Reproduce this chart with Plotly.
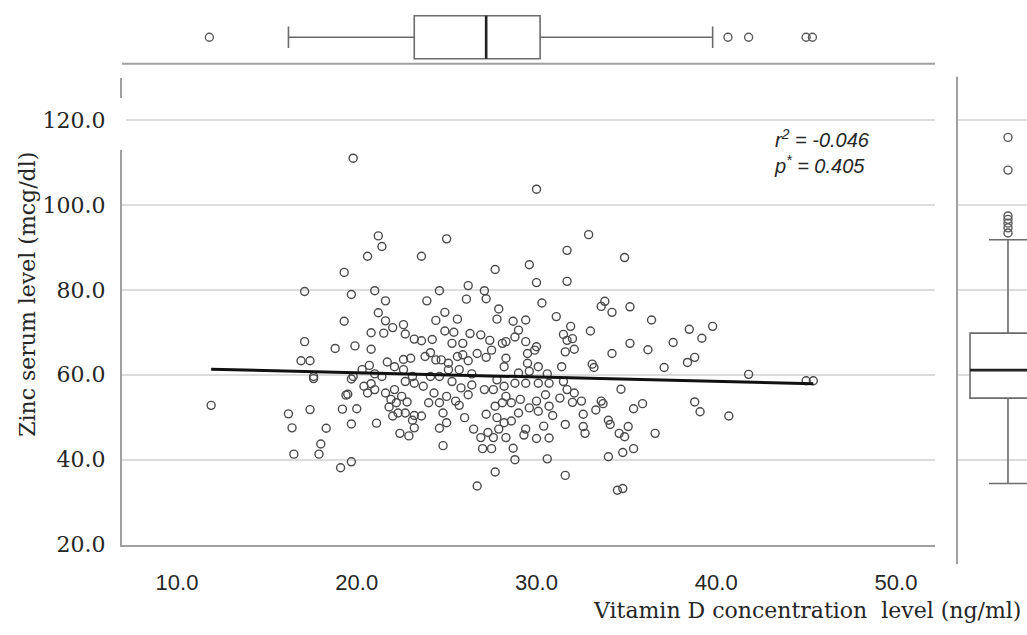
import plotly.graph_objects as go

W, H = 1027, 635

# ---------------- data ----------------
vitd = [19.8, 21.2, 21.4, 20.6, 23.6, 25.0, 19.3, 27.7, 17.1, 19.7, 21.0, 21.6, 24.6, 23.9, 26.2, 26.1, 27.1, 27.2,
        27.9, 27.8, 19.3, 21.2, 21.6, 22.0, 22.6, 22.7, 21.5, 20.8, 24.4, 24.9, 25.6, 24.9, 25.4, 26.3, 26.9,
        27.4, 28.1, 28.3, 17.1, 18.8, 19.9, 20.8, 23.2, 23.6, 24.2, 25.3, 25.9, 16.9, 17.4, 17.6, 17.6, 11.9, 16.2,
        16.4, 17.4, 16.5, 17.9, 18.0, 18.3, 19.1, 19.7, 19.2, 20.0, 19.7, 19.4, 19.5, 19.7, 19.8, 21.1, 20.3, 20.7,
        21.0, 20.4, 20.6, 20.8, 21.0, 21.7, 22.1, 22.6, 23.0, 22.6, 21.6, 21.9, 21.8, 22.2, 22.5, 22.8, 22.0, 22.3,
        22.7, 23.1, 23.2, 23.6, 22.4, 22.9, 23.2, 22.7, 23.2, 23.7, 23.8, 24.1, 24.4, 24.7, 25.1, 25.6, 25.9, 26.2,
        26.7, 27.2, 27.5, 28.2, 28.3, 25.1, 25.7, 26.4, 24.1, 24.6, 25.3, 24.3, 24.0, 24.6, 25.0, 25.5, 25.7, 24.8,
        25.0, 24.6, 26.0, 24.8, 25.8, 26.2, 26.4, 26.7, 26.5, 26.9, 27.0, 27.5, 27.2, 27.1, 27.6, 27.8, 27.3, 27.6,
        27.9, 27.7, 28.2, 28.3, 27.7, 28.1, 28.3, 28.2, 27.8, 23.1, 22.1, 21.4,
        30.0, 32.9, 31.7, 34.9, 29.6, 30.0, 31.7, 30.3, 33.8, 33.6, 34.2, 35.2, 31.1, 29.4, 28.7, 36.4, 38.5, 39.8,
        39.2, 37.6, 36.2, 35.2, 34.2, 33.0, 31.9, 31.5, 32.0, 31.7, 32.1, 31.6, 38.8, 38.4, 37.1, 33.1, 33.2, 31.4,
        41.8, 45.0, 45.4, 34.7, 29.0, 28.8, 29.4, 30.0, 29.5, 29.9, 29.5, 30.1, 29.0, 29.6, 30.6, 30.7, 30.1, 29.4,
        28.8, 31.5, 31.7, 32.1, 31.3, 32.0, 32.5, 30.5, 30.0, 29.1, 28.6, 29.6, 30.1, 30.7, 30.9, 29.0, 28.6, 30.4,
        29.4, 29.3, 30.0, 30.7, 28.7, 28.8, 30.6, 31.6, 31.6, 32.6, 33.3, 33.6, 33.7, 32.6, 32.7, 34.0, 34.1, 34.6,
        34.9, 35.1, 35.4, 35.9, 34.0, 34.8, 35.4, 36.6, 34.5, 34.8, 38.8, 39.1, 40.7]
zinc = [111.0, 92.7, 90.2, 87.9, 87.9, 92.0, 84.1, 84.8, 79.6, 78.9, 79.8, 77.4, 79.8, 77.4, 81.0, 77.8, 79.8, 77.9,
        75.5, 73.1, 72.6, 74.6, 72.7, 71.1, 71.8, 69.6, 69.8, 69.9, 72.8, 74.7, 73.1, 70.3, 70.0, 69.7, 69.4,
        68.1, 67.4, 67.8, 67.8, 66.2, 66.8, 66.0, 68.4, 68.0, 68.3, 67.4, 67.4, 63.3, 63.3, 59.6, 59.1, 52.8, 50.8,
        47.5, 51.8, 41.3, 41.3, 43.7, 47.4, 38.1, 39.5, 51.9, 52.0, 48.4, 55.2, 55.4, 59.0, 59.6, 48.6, 61.2, 62.2,
        60.2, 57.3, 55.7, 57.9, 56.5, 63.0, 61.9, 63.6, 63.9, 61.2, 55.7, 54.2, 52.4, 53.4, 54.9, 53.6, 50.3, 51.0,
        51.0, 49.3, 50.4, 50.3, 46.2, 45.6, 47.5, 58.4, 58.0, 57.3, 64.3, 65.2, 63.5, 63.5, 62.7, 64.3, 64.7, 63.3,
        65.0, 64.1, 65.8, 61.9, 63.9, 61.2, 61.2, 60.2, 59.6, 59.6, 58.4, 55.7, 53.4, 53.4, 54.9, 53.8, 52.8, 51.0,
        48.7, 47.4, 49.9, 43.3, 56.9, 55.3, 57.6, 33.8, 47.2, 45.2, 42.6, 42.6, 50.7, 56.5, 56.5, 58.8, 46.4, 45.2,
        47.2, 37.1, 48.7, 45.2, 52.6, 53.4, 54.9, 57.3, 49.9, 59.6, 56.5, 59.6,
        103.7, 93.0, 89.3, 87.6, 85.9, 81.7, 82.0, 76.9, 77.3, 76.1, 74.7, 76.0, 73.7, 72.9, 72.6, 72.9, 70.7, 71.4,
        68.6, 67.6, 65.9, 67.4, 65.0, 70.3, 71.4, 69.5, 68.5, 68.1, 66.0, 65.4, 64.1, 62.9, 61.7, 62.5, 61.7, 61.9,
        60.1, 58.6, 58.6, 56.6, 70.5, 68.9, 67.8, 66.6, 65.0, 65.8, 62.7, 61.9, 60.4, 60.8, 60.2, 58.0, 58.0, 58.0,
        58.0, 58.4, 56.5, 55.7, 54.5, 53.5, 53.8, 55.3, 53.8, 54.2, 53.4, 52.2, 51.4, 52.6, 50.4, 51.0, 49.1, 47.9,
        47.2, 45.8, 45.0, 45.1, 42.7, 40.0, 40.2, 36.3, 48.3, 50.7, 51.7, 53.8, 53.2, 47.8, 46.2, 49.3, 48.3, 46.2,
        45.4, 47.8, 52.0, 53.2, 40.7, 41.7, 42.6, 46.2, 32.8, 33.2, 53.6, 51.3, 50.3]

fit_x = [11.9, 45.4]
fit_y = [61.3, 57.9]

# marginal box plot of vitamin D (top)
vitd_box = dict(lowerfence=16.2, q1=23.2, median=27.2, q3=30.2, upperfence=39.8)
vitd_outliers = [11.8, 40.65, 41.8, 45.0, 45.35]
# marginal box plot of zinc (right)
zinc_box = dict(lowerfence=34.4, q1=54.5, median=61.1, q3=69.8, upperfence=91.8)
zinc_outliers = [115.9, 108.2, 97.4, 96.6, 95.7, 94.6, 93.4]

x_ticks = [10, 20, 30, 40, 50]
x_ticktext = ["10.0", "20.0", "30.0", "40.0", "50.0"]
y_ticks = [20, 40, 60, 80, 100, 120]
y_ticktext = ["20.0", "40.0", "60.0", "80.0", "100.0", "120.0"]

stat_text = "<i>r<sup>2</sup> = -0.046</i><br><i>p<sup>*</sup> = 0.405</i>"
x_title = "Vitamin D concentration\u00a0 level (ng/ml)"
y_title = "Zinc serum level (mcg/dl)"


# ---------------- helpers: pixel -> paper ----------------
def px(x):
    return x / W


def py(y):
    return (H - y) / H


GRID = "#dcdcdc"
AXIS = "#a0a0a0"
BOXLINE = "#6b6b6b"
TEXT = "#262626"

fig = go.Figure()

# scatter points
fig.add_trace(go.Scatter(
    x=vitd, y=zinc, mode="markers", xaxis="x", yaxis="y",
    marker=dict(symbol="circle-open", size=8, color="#4a4a4a", line=dict(width=1.4, color="#4a4a4a")),
    showlegend=False, hoverinfo="x+y"))

# regression line
fig.add_trace(go.Scatter(
    x=fit_x, y=fit_y, mode="lines", xaxis="x", yaxis="y",
    line=dict(color="#111111", width=3), showlegend=False, hoverinfo="skip"))

# top box plot
TOP_W = 1.57
fig.add_trace(go.Box(
    y=[0], orientation="h", xaxis="x", yaxis="y2",
    q1=[vitd_box["q1"]], median=[vitd_box["median"]], q3=[vitd_box["q3"]],
    lowerfence=[vitd_box["lowerfence"]], upperfence=[vitd_box["upperfence"]],
    width=TOP_W, whiskerwidth=0.5, boxpoints=False,
    fillcolor="white", line=dict(color=BOXLINE, width=1.6), showlegend=False))
fig.add_trace(go.Scatter(
    x=[vitd_box["median"]] * 2, y=[-TOP_W / 2, TOP_W / 2], mode="lines", xaxis="x", yaxis="y2",
    line=dict(color="#222222", width=2.6), showlegend=False, hoverinfo="skip"))
fig.add_trace(go.Scatter(
    x=vitd_outliers, y=[0] * len(vitd_outliers), mode="markers", xaxis="x", yaxis="y2",
    marker=dict(symbol="circle-open", size=8, color="#5a5a5a", line=dict(width=1.4)),
    showlegend=False))

# right box plot
R_W = 2.17
fig.add_trace(go.Box(
    x=[0], orientation="v", xaxis="x3", yaxis="y",
    q1=[zinc_box["q1"]], median=[zinc_box["median"]], q3=[zinc_box["q3"]],
    lowerfence=[zinc_box["lowerfence"]], upperfence=[zinc_box["upperfence"]],
    width=R_W, whiskerwidth=0.5, boxpoints=False,
    fillcolor="white", line=dict(color=BOXLINE, width=1.6), showlegend=False))
fig.add_trace(go.Scatter(
    x=[-R_W / 2, R_W / 2], y=[zinc_box["median"]] * 2, mode="lines", xaxis="x3", yaxis="y",
    line=dict(color="#222222", width=2.6), showlegend=False, hoverinfo="skip"))
fig.add_trace(go.Scatter(
    x=[0] * len(zinc_outliers), y=zinc_outliers, mode="markers", xaxis="x3", yaxis="y",
    marker=dict(symbol="circle-open", size=8, color="#5a5a5a", line=dict(width=1.4)),
    showlegend=False))

fig.update_layout(
    width=W, height=H,
    margin=dict(l=0, r=0, t=0, b=0),
    paper_bgcolor="white", plot_bgcolor="white",
    showlegend=False,
    xaxis=dict(
        domain=[px(122), px(935)], range=[6.94, 52.17], anchor="y",
        tickmode="array", tickvals=x_ticks, ticktext=x_ticktext,
        showgrid=False, zeroline=False,
        showline=True, linecolor=AXIS, linewidth=2,
        ticks="", ticklabelstandoff=17,
        tickfont=dict(family="Liberation Sans", size=22, color=TEXT)),
    yaxis=dict(
        domain=[py(556), py(80)], range=[20, 129.8], anchor="x",
        tickmode="array", tickvals=y_ticks, ticktext=y_ticktext,
        showgrid=True, gridcolor=GRID, gridwidth=2, zeroline=False,
        showline=True, linecolor=AXIS, linewidth=2,
        ticks="", ticklabelstandoff=10,
        tickfont=dict(family="DejaVu Serif", size=22, color=TEXT)),
    yaxis2=dict(
        domain=[py(66), py(10)], range=[-1, 1], anchor="x",
        showgrid=False, zeroline=False, showline=False, showticklabels=False),
    xaxis3=dict(
        domain=[px(957), 1.0], range=[-1.457, 0.543], anchor="y",
        showgrid=False, zeroline=False, showline=False, showticklabels=False),
    shapes=[
        dict(type="line", xref="paper", yref="paper", x0=px(122), x1=px(935), y0=py(65), y1=py(65),
             line=dict(color=AXIS, width=2)),
        dict(type="line", xref="paper", yref="paper", x0=px(957), x1=px(957), y0=py(576), y1=py(78),
             line=dict(color=AXIS, width=2)),
        dict(type="rect", xref="paper", yref="paper", x0=px(118), x1=px(126), y0=py(153), y1=py(100),
             fillcolor="white", line=dict(width=0), layer="above"),
    ],
    annotations=[
        dict(xref="paper", yref="paper", x=px(772), y=py(155), xanchor="left", yanchor="middle",
             text=stat_text, showarrow=False, align="left",
             font=dict(family="Liberation Sans", size=20, color=TEXT)),
        dict(xref="paper", yref="paper", x=px(1023), y=py(623), xanchor="right", yanchor="middle",
             text=x_title, showarrow=False,
             font=dict(family="DejaVu Serif", size=22, color=TEXT)),
        dict(xref="paper", yref="paper", x=px(28), y=py(301), xanchor="center", yanchor="middle",
             text=y_title, textangle=-90, showarrow=False,
             font=dict(family="DejaVu Serif", size=22, color=TEXT)),
    ],
)

fig.write_html("out.html", config={"displayModeBar": False},
               post_script="document.body.style.margin='0';document.body.style.overflow='hidden';")
